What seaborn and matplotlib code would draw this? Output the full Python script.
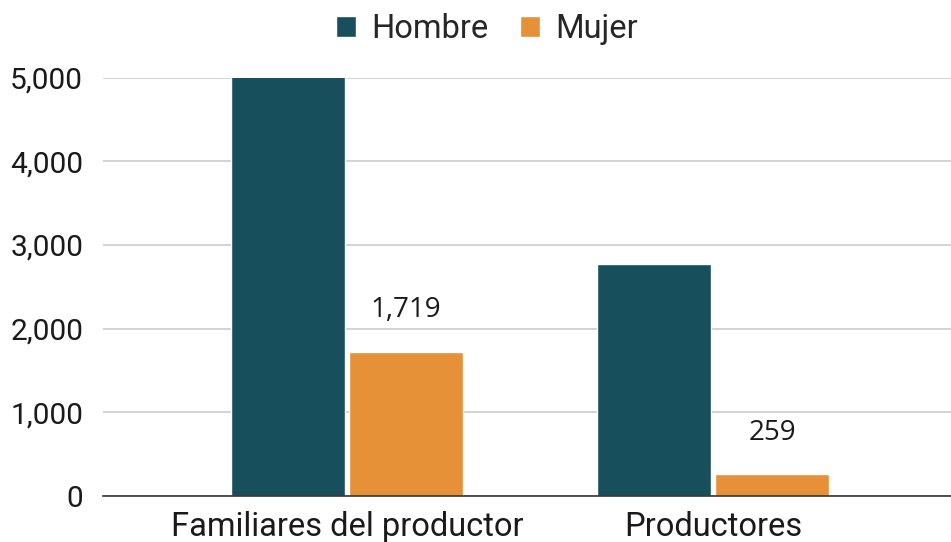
import matplotlib
matplotlib.use("Agg")
import matplotlib.pyplot as plt
import seaborn as sns
import pandas as pd
from matplotlib.patches import Patch
from matplotlib.ticker import FuncFormatter

categories = ["Familiares del productor", "Productores"]
hombre = [5300, 2777]
mujer = [1719, 259]
series = ["Hombre", "Mujer"]
colors = {"Hombre": "#174F5C", "Mujer": "#E69138"}

df = pd.DataFrame({
    "categoria": categories * 2,
    "sexo": ["Hombre"] * len(categories) + ["Mujer"] * len(categories),
    "valor": hombre + mujer,
})

sns.set_theme(style="white")
plt.rcParams["font.family"] = ["Roboto", "DejaVu Sans"]

fig = plt.figure(figsize=(9.51, 5.42), dpi=100)
ax = fig.add_axes([0.108, 0.085, 0.892, 0.772])

sns.barplot(data=df, x="categoria", y="valor", hue="sexo", palette=colors,
            order=categories, hue_order=series, width=0.645, gap=0.03,
            saturation=1, ax=ax, legend=False, errorbar=None)

ax.set_ylim(0, 5000)
ax.set_xlim(-0.667, 1.65)
ax.set_yticks(range(0, 5001, 1000))
ax.yaxis.set_major_formatter(FuncFormatter(lambda v, p: f"{int(v):,}"))
ax.grid(axis="y", color="#cccccc", linewidth=1.2)
ax.set_axisbelow(True)
for s in ["top", "right", "left"]:
    ax.spines[s].set_visible(False)
ax.spines["bottom"].set_color("#333333")
ax.spines["bottom"].set_linewidth(1.2)
ax.tick_params(axis="y", labelsize=21.5, colors="#1a1a1a", length=0, pad=14)
ax.tick_params(axis="x", labelsize=23.5, colors="#1a1a1a", length=0, pad=11)
ax.set_xlabel("")
ax.set_ylabel("")

# value labels for the Mujer series
mujer_bars = ax.containers[1]
for bar, v in zip(mujer_bars, mujer):
    ax.text(bar.get_x() + bar.get_width() / 2, v + 330, f"{v:,}",
            ha="center", va="bottom", fontsize=20, color="#1a1a1a",
            family=["Open Sans", "DejaVu Sans"])

handles = [Patch(facecolor=colors[s], label=s) for s in series]
fig.legend(handles=handles, loc="upper center", bbox_to_anchor=(0.512, 1.03),
           ncol=2, frameon=False, fontsize=23.5, handlelength=0.62,
           handleheight=0.62, handletextpad=0.45, columnspacing=0.98)

fig.savefig("out.png", dpi=100, facecolor="white")
